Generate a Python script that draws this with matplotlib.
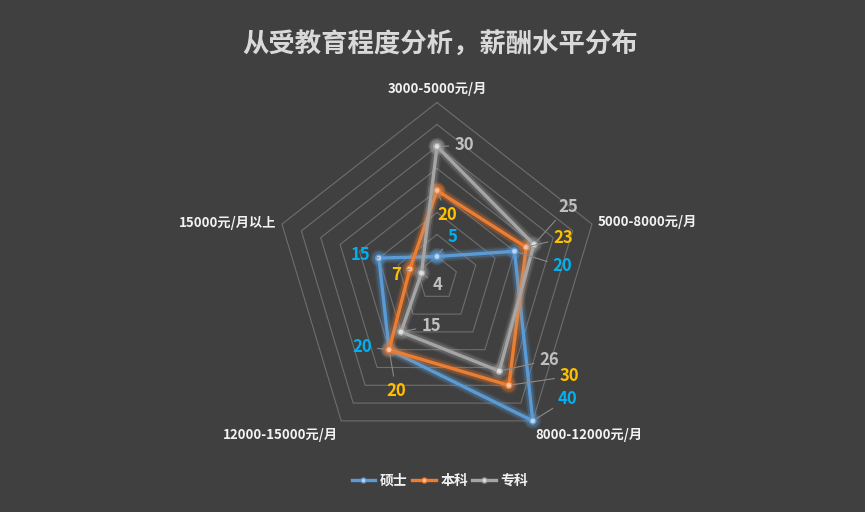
import numpy as np
import matplotlib
matplotlib.use('Agg')
import matplotlib.pyplot as plt
import matplotlib.patheffects as pe
from matplotlib.lines import Line2D

plt.rcParams['font.family'] = ['Noto Sans CJK SC', 'DejaVu Sans']

# data
categories = ['3000-5000元/月', '5000-8000元/月', '8000-12000元/月', '12000-15000元/月', '15000元/月以上']
series_names = ['硕士', '本科', '专科']
master = [5, 20, 40, 20, 15]
bachelor = [20, 23, 30, 20, 7]
college = [30, 25, 26, 15, 4]
ring_levels = [5, 10, 15, 20, 25, 30, 35, 40]
title = '从受教育程度分析，薪酬水平分布'

# styling
bg = '#404040'
line_colors = ['#5b9bd5', '#ed7d31', '#a5a5a5']
marker_faces = ['#bcd4ee', '#f6c3a3', '#dedede']
label_colors = ['#00b0f0', '#ffc000', '#bfbfbf']
grid_color = '#6e6e6e'
text_color = '#f2f2f2'

# data label offsets (pixels) per series, per category
label_offsets = [
    [(15, 20), (48, -15), (35, 22), (-27, 3), (-18, 3)],
    [(10, -24), (37, 9), (61, 9), (7, -41), (-14, -6)],
    [(27, 1), (34, 38), (50, 11), (30, 6), (16, -12)],
]
# category label placement: offset (px), ha
cat_pos = [((0, 14), 'center'), ((6, 2), 'left'), ((3, -14), 'left'),
           ((-3, -14), 'right'), ((-6, 1), 'right')]

n = len(categories)
theta = np.linspace(0, 2 * np.pi, n, endpoint=False)
theta_closed = np.append(theta, theta[0])

fig = plt.figure(figsize=(8.65, 5.12), dpi=100, facecolor=bg)
ax = fig.add_axes([274 / 865, 57.5 / 512, 326 / 865, 352 / 512], projection='polar')
ax.set_aspect('auto')
ax.set_facecolor('none')
ax.set_theta_offset(np.pi / 2)
ax.set_theta_direction(-1)
ax.set_ylim(0, 40)
ax.grid(False)
ax.spines['polar'].set_visible(False)
ax.set_xticks([])
ax.set_yticks([])

# pentagon rings
for lvl in ring_levels:
    ax.plot(theta_closed, [lvl] * (n + 1), color=grid_color, lw=0.8, zorder=1, clip_on=False)

all_series = [master, bachelor, college]
for i, vals in enumerate(all_series):
    c = line_colors[i]
    closed = list(vals) + [vals[0]]
    ax.plot(theta_closed, closed, color=c, lw=2.4, marker='o', markersize=4.5,
            markerfacecolor=marker_faces[i], markeredgecolor=c, markeredgewidth=1,
            zorder=3 + i, clip_on=False,
            path_effects=[pe.Stroke(linewidth=8, foreground=c, alpha=0.12),
                          pe.Stroke(linewidth=5.5, foreground=c, alpha=0.25),
                          pe.Normal()])
    for j, v in enumerate(vals):
        ax.annotate(str(v), xy=(theta[j], v), xytext=label_offsets[i][j],
                    textcoords='offset pixels', ha='center', va='center',
                    fontsize=12, fontweight='bold', color=label_colors[i],
                    annotation_clip=False, zorder=10,
                    arrowprops=dict(arrowstyle='-', color='#8a8a8a', lw=0.8,
                                    shrinkA=2, shrinkB=3))

# category labels
for j, cat in enumerate(categories):
    off, ha = cat_pos[j]
    ax.annotate(cat, xy=(theta[j], 40), xytext=off, textcoords='offset pixels',
                ha=ha, va='center', fontsize=9.5, fontweight='bold', color=text_color,
                annotation_clip=False)

fig.text(440 / 865, 1 - 45 / 512, title, ha='center', va='center', fontsize=19,
         fontweight='bold', color='#d9d9d9')

handles = [Line2D([], [], color=line_colors[i], lw=2.4, marker='o', markersize=3.5,
                  markerfacecolor=marker_faces[i], markeredgecolor=line_colors[i])
           for i in range(3)]
leg = fig.legend(handles, series_names, loc='center', bbox_to_anchor=(440 / 865, 1 - 481 / 512),
                 ncol=3, frameon=False, handlelength=1.7, handletextpad=0.35,
                 columnspacing=0.3, prop={'size': 10, 'weight': 'bold'})
for t in leg.get_texts():
    t.set_color(text_color)

fig.savefig('out.png', dpi=100, facecolor=bg)
